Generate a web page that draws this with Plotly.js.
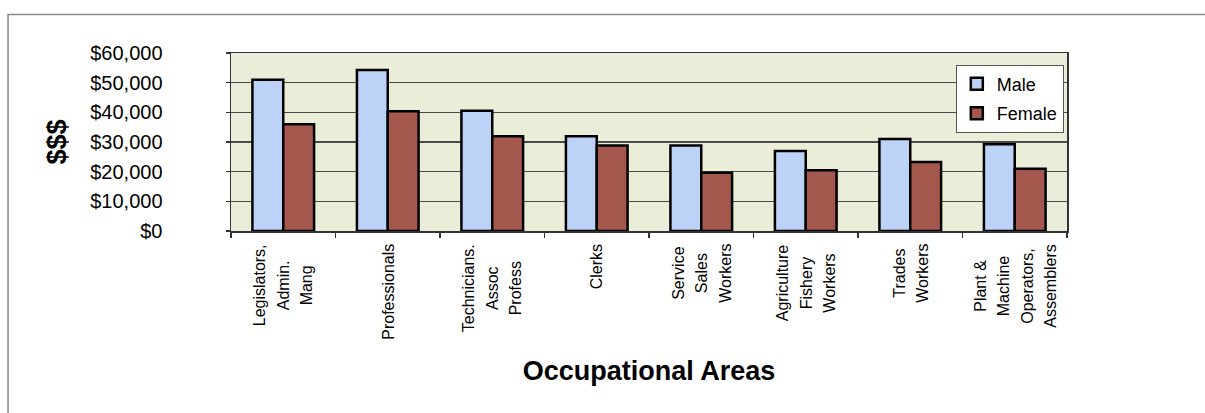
<!DOCTYPE html>
<html>
<head>
<meta charset="utf-8">
<script src="https://cdn.plot.ly/plotly-3.0.1.min.js"></script>
<style>
  html, body { margin: 0; padding: 0; background: #ffffff; }
  #chart { width: 1205px; height: 413px; }
</style>
</head>
<body>
<div id="chart"></div>
<script>
// ---- data ----
const categoryLines = [
  ["Legislators,", "Admin.", "Mang"],
  ["Professionals"],
  ["Technicians.", "Assoc", "Profess"],
  ["Clerks"],
  ["Service", "Sales", "Workers"],
  ["Agriculture", "Fishery", "Workers"],
  ["Trades", "Workers"],
  ["Plant &amp;", "Machine", "Operators,", "Assemblers"]
];
const categories = categoryLines.map(l => l.join(" "));
const maleValues   = [51000, 54300, 40500, 31900, 28800, 27000, 31000, 29200];
const femaleValues = [36000, 40400, 31900, 28800, 19600, 20500, 23300, 21000];
const yTickValues = [0, 10000, 20000, 30000, 40000, 50000, 60000];
const yTickLabels = ["$0", "$10,000", "$20,000", "$30,000", "$40,000", "$50,000", "$60,000"];
const seriesNames = ["Male", "Female"];

const FONT = "Arial, 'Liberation Sans', sans-serif";

// category labels: rotated, lines centred on each other (drawn at the category positions of the x axis)
const categoryLabels = categoryLines.map((lines, i) => ({
  xref: "x", x: categories[i],
  yref: "paper", y: 0, yanchor: "top", yshift: -11,
  textangle: -90, align: "center", showarrow: false,
  font: { family: FONT, size: 18, color: "#000000" },
  text: lines.map(s => '<span style="font-size:16px">' + s + '</span>').join("<br>")
}));

const traces = [
  {
    type: "bar", name: seriesNames[0], x: categories, y: maleValues,
    legendgroup: "m",
    marker: { color: "#bcd2f7", line: { color: "#000000", width: 2.5 } },
    hoverinfo: "skip"
  },
  {
    type: "bar", name: seriesNames[1], x: categories, y: femaleValues,
    legendgroup: "f",
    marker: { color: "#a4574c", line: { color: "#000000", width: 2.5 } },
    hoverinfo: "skip"
  }
];

const layout = {
  width: 1205, height: 413,
  paper_bgcolor: "#ffffff",
  plot_bgcolor: "#eaedd8",
  font: { family: FONT, color: "#000000" },
  margin: { l: 231, r: 138, t: 53, b: 182, autoexpand: false },
  barmode: "group",
  bargap: 0.41,
  bargroupgap: 0,
  showlegend: true,
  legend: {
    x: 0.867, y: 0.935, xanchor: "left", yanchor: "top",
    bgcolor: "#ffffff", bordercolor: "#555555", borderwidth: 1,
    font: { family: FONT, size: 18, color: "#000000" },
    traceorder: "grouped", tracegroupgap: 3, itemwidth: 30
  },
  xaxis: {
    type: "category",
    categoryarray: categories,
    showticklabels: false,
    ticks: "outside", ticklen: 5, tickcolor: "#333333", tickwidth: 1.5,
    tickson: "boundaries",
    showgrid: false,
    showline: true, linecolor: "#333333", linewidth: 1.5, mirror: true,
    automargin: false,
    title: { text: "<b>Occupational Areas</b>", font: { family: FONT, size: 27, color: "#000000" }, standoff: 129 }
  },
  yaxis: {
    range: [0, 60000],
    tickmode: "array", tickvals: yTickValues, ticktext: yTickLabels,
    tickfont: { family: FONT, size: 20, color: "#000000" },
    ticks: "outside", ticklen: 4, tickcolor: "#333333", tickwidth: 1.5,
    ticklabelstandoff: 59,
    showgrid: true, gridcolor: "#4a4a4a", gridwidth: 1.5,
    zeroline: false,
    showline: true, linecolor: "#333333", linewidth: 1.5, mirror: true,
    automargin: false,
    title: { text: "<b>$$$</b>", font: { family: FONT, size: 27, color: "#000000" }, standoff: 16 }
  },
  annotations: categoryLabels,
  shapes: [
    {
      type: "rect", xref: "paper", yref: "paper", layer: "below",
      x0: -0.2667, x1: 1.2, y0: -1.2, y1: 1.2157,
      line: { color: "#8a8a8a", width: 1.5 }, fillcolor: "rgba(0,0,0,0)"
    }
  ]
};

Plotly.newPlot("chart", traces, layout, { staticPlot: true, displayModeBar: false });
</script>
</body>
</html>
